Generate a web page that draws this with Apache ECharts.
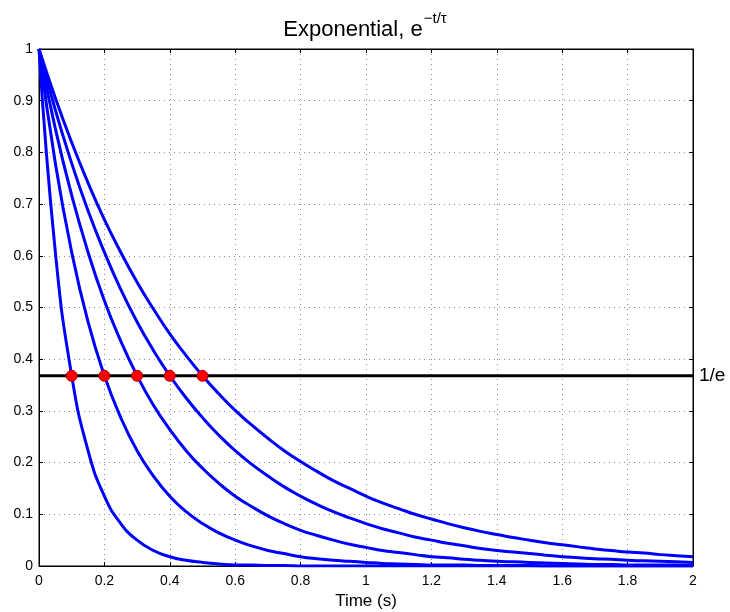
<!DOCTYPE html>
<html>
<head>
<meta charset="utf-8">
<script src="https://cdn.jsdelivr.net/npm/echarts@6/dist/echarts.min.js"></script>
<style>
html, body { margin: 0; padding: 0; background: #fff; }
#main { width: 730px; height: 612px; }
</style>
</head>
<body>
<div id="main"></div>
<script>
// sample times (s), every 0.05 s, and the curve values
var times = [0, 0.05, 0.1, 0.15, 0.2, 0.25, 0.3, 0.35, 0.4, 0.45, 0.5, 0.55, 0.6, 0.65, 0.7, 0.75, 0.8, 0.85, 0.9, 0.95,
    1.0, 1.05, 1.1, 1.15, 1.2, 1.25, 1.3, 1.35, 1.4, 1.45, 1.5, 1.55, 1.6, 1.65, 1.7, 1.75, 1.8, 1.85, 1.9, 1.95, 2.0];
var tau01 = [1, 0.607, 0.368, 0.223, 0.135, 0.082, 0.050, 0.030, 0.018, 0.011, 0.007, 0.004, 0.002, 0.002, 0.001, 0.001, 0, 0, 0, 0,
    0, 0, 0, 0, 0, 0, 0, 0, 0, 0, 0, 0, 0, 0, 0, 0, 0, 0, 0, 0, 0];
var tau02 = [1, 0.779, 0.607, 0.472, 0.368, 0.287, 0.223, 0.174, 0.135, 0.105, 0.082, 0.064, 0.050, 0.039, 0.030, 0.024, 0.018, 0.014, 0.011, 0.009,
    0.007, 0.005, 0.004, 0.003, 0.002, 0.002, 0.002, 0.001, 0.001, 0.001, 0.001, 0, 0, 0, 0, 0, 0, 0, 0, 0, 0];
var tau03 = [1, 0.846, 0.717, 0.607, 0.513, 0.435, 0.368, 0.311, 0.264, 0.223, 0.189, 0.160, 0.135, 0.115, 0.097, 0.082, 0.069, 0.059, 0.050, 0.042,
    0.036, 0.030, 0.026, 0.022, 0.018, 0.016, 0.013, 0.011, 0.009, 0.008, 0.007, 0.006, 0.005, 0.004, 0.003, 0.003, 0.002, 0.002, 0.002, 0.002, 0.001];
var tau04 = [1, 0.882, 0.779, 0.687, 0.607, 0.535, 0.472, 0.417, 0.368, 0.325, 0.287, 0.253, 0.223, 0.197, 0.174, 0.153, 0.135, 0.119, 0.105, 0.093,
    0.082, 0.072, 0.064, 0.056, 0.050, 0.044, 0.039, 0.034, 0.030, 0.027, 0.024, 0.021, 0.018, 0.016, 0.014, 0.013, 0.011, 0.010, 0.009, 0.008, 0.007];
var tau05 = [1, 0.905, 0.819, 0.741, 0.670, 0.607, 0.549, 0.497, 0.449, 0.407, 0.368, 0.333, 0.301, 0.273, 0.247, 0.223, 0.202, 0.183, 0.165, 0.150,
    0.135, 0.122, 0.111, 0.100, 0.091, 0.082, 0.074, 0.067, 0.061, 0.055, 0.050, 0.045, 0.041, 0.037, 0.033, 0.030, 0.027, 0.025, 0.022, 0.020, 0.018];
var curves = [tau01, tau02, tau03, tau04, tau05];

var taus = [0.1, 0.2, 0.3, 0.4, 0.5];
var oneOverE = 0.3679;
var lineX = [0, 2];

var myChart = echarts.init(document.getElementById('main'));
var font = 'Liberation Sans, Arial, sans-serif';

function pairs(xs, ys) {
    return xs.map(function(x, i) { return [x, ys[i]]; });
}

var series = [];
curves.forEach(function(c) {
    series.push({
        type: 'line',
        data: pairs(times, c),
        smooth: 0.5,
        showSymbol: false,
        lineStyle: { color: '#0000ff', width: 3 },
        z: 2
    });
});
series.push({
    type: 'line',
    data: lineX.map(function(x) { return [x, oneOverE]; }),
    showSymbol: false,
    lineStyle: { color: '#000', width: 3 },
    endLabel: {
        show: true,
        formatter: '1/e',
        color: '#000',
        fontSize: 19,
        fontFamily: font,
        distance: 6
    },
    z: 3
});
series.push({
    type: 'scatter',
    data: taus.map(function(t) { return [t, oneOverE]; }),
    symbolSize: 11,
    itemStyle: { color: '#ff0000', borderColor: '#b00000', borderWidth: 1, opacity: 1 },
    z: 4
});

var gridLine = { show: true, lineStyle: { color: '#8c8c8c', type: [1, 4], width: 1 } };
var tick = { show: true, inside: true, length: 4, lineStyle: { color: '#000' } };
var axisLine = { show: true, onZero: false, lineStyle: { color: '#000', width: 1 } };
var label = { color: '#000', fontSize: 14, fontFamily: font };

var option = {
    animation: false,
    title: {
        text: '{a|Exponential, e}{b|\u2212t/\u03c4}',
        left: 'center',
        top: 2,
        textStyle: {
            fontWeight: 'normal',
            rich: {
                a: { fontSize: 22, fontFamily: font, fontWeight: 'normal', color: '#000', lineHeight: 34, verticalAlign: 'bottom' },
                b: { fontSize: 15, fontFamily: font, fontWeight: 'normal', color: '#000', lineHeight: 34, verticalAlign: 'top', padding: [4, 0, 0, 1] }
            }
        }
    },
    grid: {
        left: 39, right: 37, top: 49, bottom: 46,
        containLabel: false, outerBoundsMode: 'none',
        show: true, borderColor: '#000', borderWidth: 1
    },
    xAxis: [{
        type: 'value', min: 0, max: 2, interval: 0.2,
        axisLine: axisLine, axisTick: tick, splitLine: gridLine,
        axisLabel: Object.assign({ margin: 8 }, label),
        name: 'Time (s)', nameLocation: 'middle', nameGap: 26,
        nameTextStyle: { color: '#000', fontSize: 17, fontFamily: font }
    }, {
        type: 'value', position: 'top', min: 0, max: 2, interval: 0.2,
        axisLine: axisLine, axisTick: tick, splitLine: { show: false }, axisLabel: { show: false }
    }],
    yAxis: [{
        type: 'value', min: 0, max: 1, interval: 0.1,
        axisLine: axisLine, axisTick: tick, splitLine: gridLine,
        axisLabel: Object.assign({ margin: 6 }, label)
    }, {
        type: 'value', position: 'right', min: 0, max: 1, interval: 0.1,
        axisLine: axisLine, axisTick: tick, splitLine: { show: false }, axisLabel: { show: false }
    }],
    series: series
};
myChart.setOption(option);
</script>
</body>
</html>
